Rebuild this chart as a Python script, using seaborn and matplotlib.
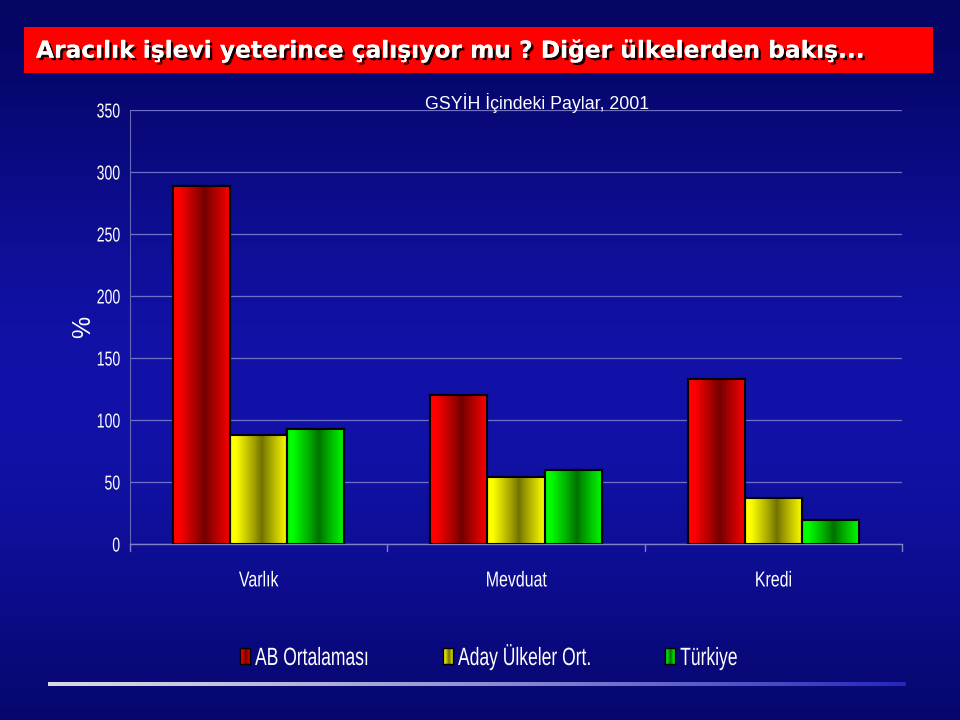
import numpy as np
import pandas as pd
import matplotlib
matplotlib.use("Agg")
import matplotlib.pyplot as plt
import matplotlib.patheffects as pe
from matplotlib.patches import Rectangle
from matplotlib.transforms import Affine2D
import seaborn as sns

# ── Data ──────────────────────────────────────────────────────────────────────
categories = ["Varlık", "Mevduat", "Kredi"]
series = ["AB Ortalaması", "Aday Ülkeler Ort.", "Türkiye"]
ab_values = [289, 120, 133]
aday_values = [88, 54, 37]
turkiye_values = [93, 60, 19]
y_ticks = [0, 50, 100, 150, 200, 250, 300, 350]

title = "Aracılık işlevi yeterince çalışıyor mu ? Diğer ülkelerden bakış..."
subtitle = "GSYİH İçindeki Paylar, 2001"

bright = ["#ff0000", "#ffff00", "#00ff00"]
dark = ["#700000", "#707000", "#007000"]

df = pd.DataFrame({
    "cat": categories * 3,
    "series": [s for s in series for _ in categories],
    "value": ab_values + aday_values + turkiye_values,
})


class Condense(pe.AbstractPathEffect):
    """Squeeze text horizontally (no narrow font installed)."""

    def __init__(self, sx=0.72, anchor="center"):
        super().__init__()
        self.sx = sx
        self.anchor = anchor

    def draw_path(self, renderer, gc, tpath, affine, rgbFace=None):
        ext = tpath.get_extents(affine)
        x0 = {"left": ext.x0, "right": ext.x1}.get(self.anchor, (ext.x0 + ext.x1) / 2)
        t = affine + Affine2D().translate(-x0, 0).scale(self.sx, 1).translate(x0, 0)
        renderer.draw_path(gc, tpath, t, rgbFace)


def gradient_img(c_bright, c_dark, n=200):
    xs = np.linspace(0, 1, n)
    shade = np.clip(np.abs(xs - 0.55) / 0.45, 0, 1) ** 0.9
    b = np.array(matplotlib.colors.to_rgb(c_bright))
    d = np.array(matplotlib.colors.to_rgb(c_dark))
    return (d[None, :] + (b - d)[None, :] * shade[:, None])[None, :, :]


sns.set_theme(style="white")
plt.rcParams["font.family"] = ["Liberation Sans", "DejaVu Sans"]

fig = plt.figure(figsize=(9.6, 7.2), dpi=100)

# background gradient
bg = fig.add_axes([0, 0, 1, 1], zorder=-10)
t = np.linspace(0, 1, 256)
prof = np.exp(-((t - 0.55) / 0.45) ** 2)
grad = np.zeros((256, 2, 3))
grad[:, :, 0] = (0.00 + 0.07 * prof)[:, None]
grad[:, :, 1] = (0.00 + 0.07 * prof)[:, None]
grad[:, :, 2] = (0.30 + 0.36 * prof)[:, None]
bg.imshow(grad, aspect="auto", extent=[0, 1, 0, 1], origin="upper")
bg.set_axis_off()

# title bar
fig.patches.append(Rectangle((0.025, 0.8986), 0.947, 0.0639, transform=fig.transFigure,
                             facecolor="#ff0000", edgecolor="none", zorder=1))
fig.text(0.0375, 0.929, title, color="white", fontsize=16.8, fontweight="bold",
         family="DejaVu Sans", va="center", ha="left", zorder=2,
         path_effects=[pe.withSimplePatchShadow(offset=(1.8, -1.8), shadow_rgbFace="black", alpha=0.9),
                       pe.Normal()])

# main axes
ax = fig.add_axes([0.1354, 0.2444, 0.8042, 0.6028])
ax.set_facecolor("none")
sns.barplot(data=df, x="cat", y="value", hue="series", palette=bright,
            width=0.665, edgecolor="black", linewidth=1.5, legend=False,
            ax=ax, zorder=3)

# gradient fill inside each bar
for i, bars in enumerate(ax.containers):
    img = gradient_img(bright[i], dark[i])
    for p in bars:
        x0, y0 = p.get_x(), p.get_y()
        w, h = p.get_width(), p.get_height()
        im = ax.imshow(img, aspect="auto", extent=[x0, x0 + w, y0, y0 + h],
                       zorder=3.5, interpolation="bilinear")
        im.set_clip_path(p)
        ax.add_patch(Rectangle((x0, y0), w, h, facecolor="none", edgecolor="black",
                               linewidth=1.5, zorder=4))

ax.set_xlim(-0.5, 2.5)
ax.set_ylim(0, 350)
ax.set_yticks(y_ticks)
ax.set_yticklabels([str(v) for v in y_ticks], color="white", fontsize=14.5)
for lab in ax.get_yticklabels():
    lab.set_path_effects([Condense(0.7, "right")])
ax.tick_params(axis="y", length=0, pad=7)
ax.set_xticks([0, 1, 2])
ax.set_xticklabels(categories, color="white", fontsize=15.5)
for lab in ax.get_xticklabels():
    lab.set_path_effects([Condense(0.74, "center")])
ax.tick_params(axis="x", length=0, pad=19)
ax.grid(axis="y", color="#7070c8", linewidth=0.9, zorder=0)
ax.set_axisbelow(True)
for s in ["top", "right"]:
    ax.spines[s].set_visible(False)
ax.spines["left"].set_color("#6868b8")
ax.spines["left"].set_linewidth(0.8)
ax.spines["bottom"].set_color("#8080c8")
ax.spines["bottom"].set_linewidth(1.0)
for xb in [-0.5, 0.5, 1.5, 2.5]:
    ax.plot([xb, xb], [0, -6], color="#8080c8", lw=1.0, clip_on=False, zorder=2)
ax.set_xlabel("")
ax.set_ylabel("%", color="white", fontsize=18)
ax.yaxis.set_label_coords(-0.045, 0.5)

fig.text(0.559, 0.857, subtitle, color="white", fontsize=12.8, ha="center", va="center")

# legend (handles with the same shading as the bars)
legend_x = [240, 443, 665]
for i, name in enumerate(series):
    hx = legend_x[i] / 960
    hax = fig.add_axes([hx, 1 - 664 / 720, 10 / 960, 16 / 720])
    hax.imshow(gradient_img(bright[i], dark[i]), aspect="auto", extent=[0, 1, 0, 1])
    hax.set_xticks([])
    hax.set_yticks([])
    for s in hax.spines.values():
        s.set_color("black")
        s.set_linewidth(1.0)
    fig.text(hx + 15 / 960, 1 - 665 / 720, name, color="white", fontsize=18,
             ha="left", va="baseline", path_effects=[Condense(0.7, "left")])

# bottom line with gradient
ln = fig.add_axes([0.05, 0.047, 0.893, 0.006])
lg = np.linspace(0, 1, 256)
c0 = np.array([0.85, 0.85, 0.88])
c1 = np.array([0.15, 0.15, 0.75])
limg = (c0[None, :] + (c1 - c0)[None, :] * lg[:, None] ** 1.3)[None, :, :]
ln.imshow(limg, aspect="auto", extent=[0, 1, 0, 1])
ln.set_axis_off()

fig.savefig("out.png", dpi=100)
